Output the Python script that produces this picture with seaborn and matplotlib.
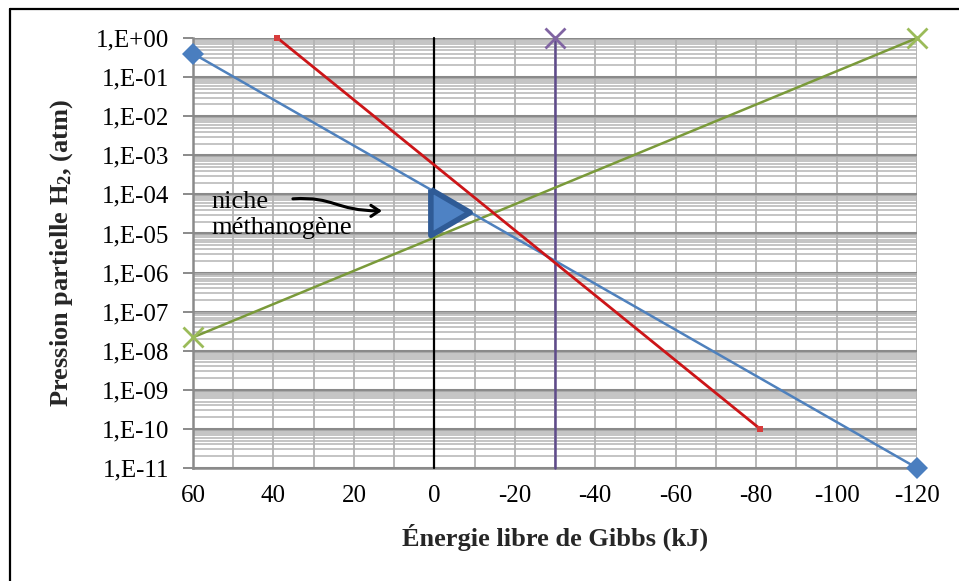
import numpy as np
import pandas as pd
import matplotlib
matplotlib.use("Agg")
import matplotlib.pyplot as plt
import seaborn as sns
from matplotlib.ticker import FixedLocator, MultipleLocator, NullFormatter, LogLocator
from matplotlib.patches import FancyArrowPatch
from matplotlib.path import Path
from matplotlib.lines import Line2D

# --- data -----------------------------------------------------------------
blue_x = [60, -120]
blue_y = [0.4, 1e-11]

red_x = [39, -81]
red_y = [1.0, 1e-10]

green_x = [60, -120]
green_y = [2.2e-8, 1.0]

purple_x = [-30, -30]
purple_y = [1.0, 1e-11]

zero_x = [0, 0]
zero_y = [1.0, 1e-11]

niche_x = [-4]
niche_y = [3.5e-5]

x_ticks = [60, 40, 20, 0, -20, -40, -60, -80, -100, -120]
x_tick_labels = ["60", "40", "20", "0", "-20", "-40", "-60", "-80", "-100", "-120"]

y_ticks = [1e0, 1e-1, 1e-2, 1e-3, 1e-4, 1e-5, 1e-6, 1e-7, 1e-8, 1e-9, 1e-10, 1e-11]
y_tick_labels = ["1,E+00", "1,E-01", "1,E-02", "1,E-03", "1,E-04", "1,E-05",
                 "1,E-06", "1,E-07", "1,E-08", "1,E-09", "1,E-10", "1,E-11"]

# --- style ----------------------------------------------------------------
sns.set_theme(style="white")
plt.rcParams["font.family"] = ["Liberation Serif", "DejaVu Serif"]
plt.rcParams["mathtext.fontset"] = "custom"
plt.rcParams["mathtext.rm"] = "Liberation Serif:bold"
plt.rcParams["mathtext.bf"] = "Liberation Serif:bold"
plt.rcParams["mathtext.it"] = "Liberation Serif:bold"

fig = plt.figure(figsize=(9.59, 5.81), dpi=100)
ax = fig.add_axes([193 / 959, 1 - 468 / 581, 724 / 959, 430 / 581])

ax.set_yscale("log")
ax.set_xlim(60, -120)
ax.set_ylim(1e-11, 1e0)

# grid
ax.yaxis.set_major_locator(FixedLocator(y_ticks))
ax.yaxis.set_minor_locator(LogLocator(base=10, subs=np.arange(2, 10), numticks=100))
ax.yaxis.set_minor_formatter(NullFormatter())
ax.xaxis.set_major_locator(FixedLocator(x_ticks))
ax.xaxis.set_minor_locator(MultipleLocator(10))

ax.grid(which="major", axis="y", color="#8a8a8a", lw=2.2, zorder=0)
ax.grid(which="minor", axis="y", color="#b4b4b4", lw=1.1, zorder=0)
ax.grid(which="both", axis="x", color="#b8b8b8", lw=1.4, zorder=0)
ax.set_axisbelow(True)

for side in ("top", "right"):
    ax.spines[side].set_visible(False)
for side in ("left", "bottom"):
    ax.spines[side].set_color("#8a8a8a")
    ax.spines[side].set_linewidth(1.8)

ax.set_yticklabels(y_tick_labels)
ax.set_xticklabels(x_tick_labels)
ax.tick_params(axis="y", which="major", length=7, width=1.4, color="#8a8a8a",
               pad=10, labelsize=18, labelcolor="black", left=True)
ax.tick_params(axis="y", which="minor", length=0)
ax.tick_params(axis="x", which="both", length=0, pad=12, labelsize=18, labelcolor="black")

# --- series ---------------------------------------------------------------
common = dict(sort=False, estimator=None, ax=ax, clip_on=False)
sns.lineplot(x=zero_x, y=zero_y, color="black", lw=1.6, zorder=3, **common)
sns.lineplot(x=purple_x, y=purple_y, color="#5f4b8b", lw=1.8,
             marker="x", markersize=14, markeredgewidth=2.0, markeredgecolor="#8064a2",
             markevery=[0], zorder=3, **common)
sns.lineplot(x=green_x, y=green_y, color="#7a9a3a", lw=1.8,
             marker="x", markersize=14, markeredgewidth=2.0, markeredgecolor="#9bbb59",
             zorder=4, **common)
sns.lineplot(x=blue_x, y=blue_y, color="#4f81bd", lw=1.8,
             marker="D", markersize=11, markeredgewidth=0, markerfacecolor="#4a7ebf",
             zorder=4, **common)
sns.lineplot(x=red_x, y=red_y, color="#cc1518", lw=2.0,
             marker="s", markersize=5, markeredgewidth=0, markerfacecolor="#d83c3c",
             zorder=5, **common)

# niche triangle
tri = [(-0.857, 1.0), (0.857, 0.0), (-0.857, -1.0), (-0.857, 1.0)]
sns.scatterplot(x=niche_x, y=niche_y, marker=tri, s=33 ** 2, color="#4e82c4",
                edgecolor="#2f5b96", linewidth=4.0, ax=ax, zorder=6, legend=False)

# annotation
ax.text(0.026, 0.645, "niche\nméthanogène", transform=ax.transAxes, fontsize=19,
        ha="left", va="top", linespacing=1.25, color="black", zorder=7)
verts = [(0.138, 0.626), (0.196, 0.632), (0.196, 0.598), (0.261, 0.598)]
codes = [Path.MOVETO, Path.CURVE4, Path.CURVE4, Path.CURVE4]
arrow = FancyArrowPatch(path=Path(verts, codes), transform=ax.transAxes,
                        arrowstyle="->,head_length=6,head_width=4",
                        color="black", lw=2.2, zorder=7)
ax.add_patch(arrow)

# axis labels
ax.set_xlabel("Énergie libre de Gibbs (kJ)", fontsize=19, fontweight="bold")
ax.xaxis.set_label_coords(0.5, -0.13)
ax.set_ylabel(r"Pression partielle H$_{2}$, (atm)", fontsize=19, fontweight="bold",
              va="center")
ax.yaxis.set_label_coords(-0.182, 0.5)

# frame around the chart
fig.add_artist(Line2D([10 / 959, 1.0], [1 - 9 / 581, 1 - 9 / 581],
                      transform=fig.transFigure, color="black", lw=1.6))
fig.add_artist(Line2D([10 / 959, 10 / 959], [0.0, 1 - 9 / 581],
                      transform=fig.transFigure, color="black", lw=1.6))

fig.savefig("out.png", dpi=100, facecolor="white")
